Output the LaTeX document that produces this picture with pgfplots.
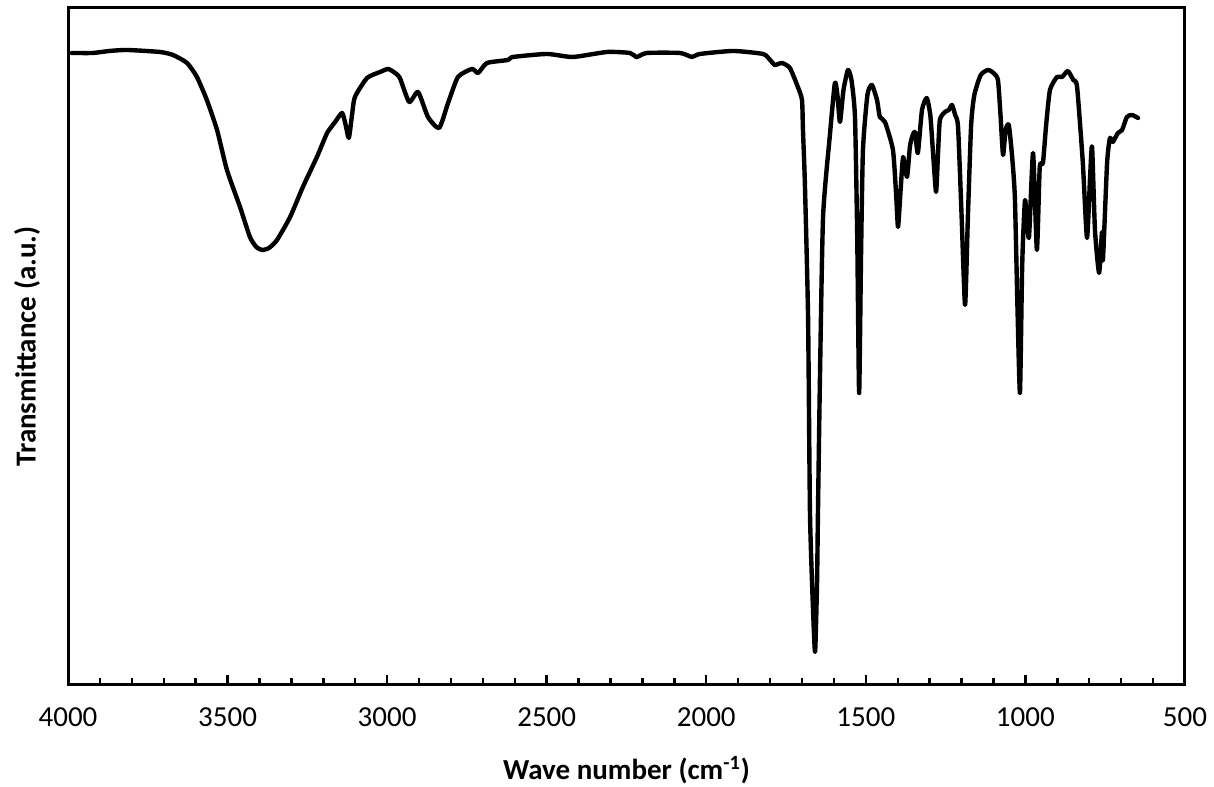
\documentclass[border=0pt]{standalone}
\usepackage{pgfplots}
\pgfplotsset{compat=1.18}
\usepackage{fontspec}
\setmainfont{Carlito}

% IR spectrum, y in arbitrary units (transmittance)
\pgfplotstableread{
wn T
3988 632
3922 632
3870 634
3815 635
3712 633
3671 630
3627 622
3596 608
3565 585
3533 555
3502 515
3461 478
3430 448
3410 438
3392 435
3370 437
3345 445
3304 468
3264 498
3220 528
3188 552
3163 563
3141 572
3130 560
3120 547
3110 570
3101 588
3063 607
3022 613
2997 616
2975 612
2960 607
2931 583
2903 593
2872 568
2837 557
2809 582
2778 608
2734 616
2715 612
2687 622
2621 625
2606 628
2499 631
2418 628
2311 633
2239 632
2218 628
2186 632
2082 632
2045 628
2020 631
1916 634
1822 631
1800 625
1785 620
1763 622
1738 617
1713 598
1700 585
1697 555
1691 502
1681 368
1675 172
1666 80
1659 33
1653 100
1650 172
1644 302
1634 468
1612 552
1597 602
1589 590
1581 563
1570 595
1556 615
1545 605
1534 568
1527 450
1521 292
1515 430
1509 535
1495 590
1481 600
1465 585
1456 568
1440 563
1415 535
1405 490
1399 458
1390 500
1383 528
1371 508
1362 538
1355 548
1346 553
1337 532
1324 575
1309 587
1298 570
1290 535
1280 493
1274 530
1268 565
1252 573
1240 575
1230 580
1220 570
1211 558
1200 470
1189 380
1180 470
1170 560
1160 590
1140 610
1117 615
1100 612
1086 605
1078 570
1070 530
1062 555
1052 560
1042 530
1033 488
1025 380
1017 292
1010 420
1001 485
989 447
976 532
964 435
955 518
945 522
935 560
923 595
901 608
885 608
867 614
850 605
838 598
820 522
807 447
797 510
791 538
782 455
769 412
760 453
757 425
744 522
735 547
726 543
710 552
697 555
682 568
666 570
647 567
}\spectrum

\begin{document}
\begin{tikzpicture}
\begin{axis}[
  scale only axis,
  width=558.5pt, height=338.5pt,
  x dir=reverse,
  xmin=500, xmax=4000,
  ymin=0, ymax=677,
  xtick={500,1000,...,4000},
  minor xtick={600,700,...,3900},
  ytick=\empty,
  xtick pos=bottom,
  tick align=inside,
  major tick length=5pt,
  minor tick length=3.5pt,
  every tick/.style={black, line width=1.2pt},
  axis line style={line width=1.5pt},
  scaled x ticks=false,
  /pgf/number format/.cd, set thousands separator={}, assume math mode=true,
  /pgfplots/.cd,
  ticklabel style={font=\fontsize{14.5}{17}\selectfont},
  xticklabel style={yshift=-8pt},
  xlabel={\textbf{Wave number (cm\textsuperscript{-1})}},
  ylabel={\textbf{Transmittance (a.u.)}},
  label style={font=\fontsize{14.5}{17}\selectfont},
  xlabel style={at={(axis description cs:0.5,-0.1256)}, anchor=center},
  ylabel style={at={(axis description cs:-0.0367,0.5)}, anchor=center, rotate=0},
  clip=false,
]
\addplot[black, line width=2.2pt, line join=round, line cap=round, smooth, tension=0.35] table[x=wn, y=T] {\spectrum};
\coordinate (bbl) at (axis description cs:-0.0609,-0.1507);
\coordinate (bbr) at (axis description cs:1.026,1.0118);
\end{axis}
\pgfresetboundingbox
\path[use as bounding box] (bbl) rectangle (bbr);
\end{tikzpicture}
\end{document}
